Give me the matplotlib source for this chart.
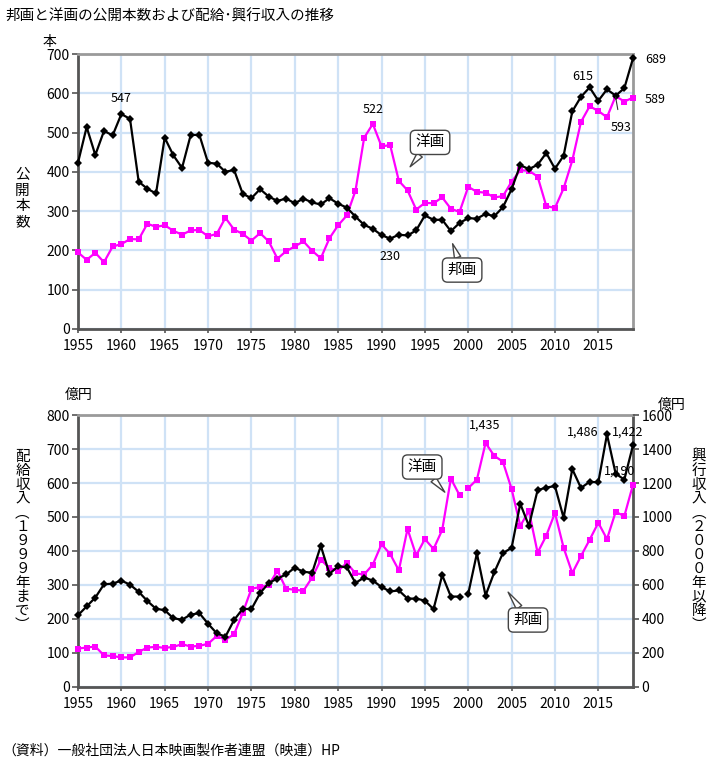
import numpy as np
import matplotlib
matplotlib.use("Agg")
import matplotlib.pyplot as plt
from matplotlib.ticker import MultipleLocator

plt.rcParams['font.family'] = ['Noto Sans CJK JP', 'DejaVu Sans']

years = np.arange(1955, 2020)

# 公開本数
hoga_count = [423, 514, 443, 504, 493, 547, 535, 375, 357, 345,
              487, 442, 410, 494, 494, 423, 421, 400, 405, 344,
              333, 356, 337, 326, 332, 320, 332, 322, 317, 333,
              319, 309, 286, 265, 255, 239, 230, 240, 238, 251,
              289, 278, 278, 249, 270, 282, 281, 293, 287, 310,
              356, 417, 407, 418, 448, 408, 441, 554, 591, 615,
              581, 610, 594, 613, 689]
yoga_count = [195, 176, 194, 170, 210, 216, 229, 228, 268, 260,
              264, 250, 240, 251, 252, 236, 242, 283, 253, 242,
              225, 244, 223, 179, 198, 210, 223, 199, 180, 231,
              264, 289, 352, 487, 522, 465, 468, 377, 353, 304,
              321, 320, 335, 306, 298, 362, 349, 347, 335, 338,
              375, 404, 403, 388, 313, 308, 358, 429, 527, 567,
              555, 539, 593, 579, 589]

# 配給収入 (1955-1999)
rental_years = np.arange(1955, 2000)
hoga_rental = [211, 237, 263, 302, 304, 313, 301, 280, 253, 230,
               226, 202, 198, 213, 217, 186, 158, 148, 197, 230,
               229, 276, 306, 319, 331, 351, 339, 336, 415, 333,
               355, 352, 306, 322, 313, 294, 281, 284, 260, 260,
               254, 229, 329, 266, 266]
yoga_rental = [113, 116, 119, 93, 91, 87, 87, 103, 116, 118,
               115, 118, 126, 119, 121, 127, 150, 139, 155, 218,
               289, 294, 300, 342, 289, 286, 283, 322, 374, 350,
               342, 365, 334, 331, 360, 420, 391, 343, 465, 387,
               435, 406, 462, 613, 564]

# 興行収入 (2000-2019)
box_years = np.arange(2000, 2020)
hoga_box = [548, 786, 538, 674, 788, 818, 1078, 948, 1158, 1173,
            1182, 995, 1282, 1171, 1207, 1204, 1486, 1255, 1220, 1422]
yoga_box = [1170, 1220, 1435, 1360, 1325, 1165, 948, 1035, 790, 890,
            1024, 819, 670, 770, 866, 966, 870, 1030, 1005, 1190]

BLACK = '#000000'
MAG = '#ff00ff'
GRID = '#cfe2f6'

fig = plt.figure(figsize=(7.24, 7.64), dpi=100)

def style_axes(ax, right_dark=False):
    ax.set_xlim(1955, 2019)
    ax.xaxis.set_major_locator(MultipleLocator(5))
    ax.grid(True, color=GRID, linewidth=1.6, linestyle='-')
    ax.set_axisbelow(True)
    for s in ['left', 'bottom']:
        ax.spines[s].set_color('#555555')
        ax.spines[s].set_linewidth(2)
    ax.spines['top'].set_color('#9a9a9a')
    ax.spines['top'].set_linewidth(2)
    ax.spines['right'].set_color('#555555' if right_dark else '#9a9a9a')
    ax.spines['right'].set_linewidth(2)
    ax.tick_params(axis='both', labelsize=10, length=4, width=1.2,
                   color='#555555', pad=2)
    ax.tick_params(axis='x', length=3, pad=4)

def draw(ax, x, y, color, marker, ms):
    ax.plot(x, y, color=color, linewidth=1.6, marker=marker, markersize=ms,
            markeredgewidth=0, zorder=3, clip_on=False)

def bubble(ax, text, xy, xytext):
    ax.annotate(text, xy=xy, xytext=xytext, fontsize=10.5, ha='center',
                va='center', zorder=6,
                bbox=dict(boxstyle='round,pad=0.35', fc='white', ec='#444444', lw=1),
                arrowprops=dict(arrowstyle='wedge,tail_width=0.45', fc='white',
                                ec='#444444', lw=1, shrinkA=0, shrinkB=0))

# ---------- 公開本数 ----------
ax1 = fig.add_axes([0.1077, 0.5694, 0.7666, 0.3599])
style_axes(ax1)
ax1.set_ylim(0, 700)
ax1.yaxis.set_major_locator(MultipleLocator(100))
draw(ax1, years, yoga_count, MAG, 's', 5)
draw(ax1, years, hoga_count, BLACK, 'D', 4.5)

ax1.text(1960, 587, '547', fontsize=9, ha='center', va='center')
ax1.text(1989, 560, '522', fontsize=9, ha='center', va='center')
ax1.annotate('230', xy=(1991, 226), xytext=(1991, 184), fontsize=9,
             ha='center', va='center',
             arrowprops=dict(arrowstyle='-', color='#333333', lw=0.8,
                             shrinkA=5, shrinkB=0))
ax1.text(2013.2, 644, '615', fontsize=9, ha='center', va='center')
ax1.annotate('593', xy=(2017, 590), xytext=(2017.6, 514), fontsize=9,
             ha='center', va='center',
             arrowprops=dict(arrowstyle='-', color='#333333', lw=0.8,
                             shrinkA=6, shrinkB=0))
ax1.text(2021.6, 687, '689', fontsize=9, ha='center', va='center', clip_on=False)
ax1.text(2021.6, 585, '589', fontsize=9, ha='center', va='center', clip_on=False)

bubble(ax1, '洋画', (1993.3, 413), (1995.6, 475))
bubble(ax1, '邦画', (1998.2, 217), (1999.3, 150))

fig.text(0.069, 0.945, '本', fontsize=10, ha='center', va='center')
fig.text(0.031, 0.740, '公\n開\n本\n数', fontsize=10.5, ha='center', va='center',
         linespacing=1.15)

# ---------- 配給・興行収入 ----------
ax2 = fig.add_axes([0.1077, 0.1008, 0.7666, 0.3560])
style_axes(ax2, right_dark=True)
ax2.set_ylim(0, 800)
ax2.yaxis.set_major_locator(MultipleLocator(100))
draw(ax2, rental_years, yoga_rental, MAG, 's', 5)
draw(ax2, rental_years, hoga_rental, BLACK, 'D', 4.5)

ax3 = ax2.twinx()
ax3.set_xlim(1955, 2019)
ax3.set_ylim(0, 1600)
ax3.yaxis.set_major_locator(MultipleLocator(200))
for s in ax3.spines.values():
    s.set_visible(False)
ax3.tick_params(axis='y', labelsize=10, length=4, width=1.2, color='#555555', pad=2)
draw(ax3, box_years, yoga_box, MAG, 's', 5)
draw(ax3, box_years, hoga_box, BLACK, 'D', 4.5)

ax3.text(2001.9, 1541, '1,435', fontsize=9, ha='center', va='center')
ax3.text(2013.2, 1500, '1,486', fontsize=9, ha='center', va='center')
ax3.text(2018.4, 1500, '1,422', fontsize=9, ha='center', va='center')
ax3.text(2017.4, 1270, '1,190', fontsize=9, ha='center', va='center')

bubble(ax3, '洋画', (1997.3, 1146), (1994.7, 1294))
bubble(ax3, '邦画', (2004.6, 558), (2006.9, 394))

fig.text(0.108, 0.483, '億円', fontsize=10, ha='center', va='center')
fig.text(0.928, 0.470, '億円', fontsize=10, ha='center', va='center')
fig.text(0.031, 0.292, '配\n給\n収\n入\n︵\n１\n９\n９\n９\n年\nま\nで\n︶',
         fontsize=10.5, ha='center', va='center', linespacing=1.0)
fig.text(0.965, 0.292, '興\n行\n収\n入\n︵\n２\n０\n０\n０\n年\n以\n降\n︶',
         fontsize=10.5, ha='center', va='center', linespacing=1.0)

fig.text(0.007, 0.979, '邦画と洋画の公開本数および配給･興行収入の推移',
         fontsize=10.5, ha='left', va='center')
fig.text(0.003, 0.018, '（資料）一般社団法人日本映画製作者連盟（映連）HP',
         fontsize=10, ha='left', va='center')

fig.savefig('out.png', dpi=100)
